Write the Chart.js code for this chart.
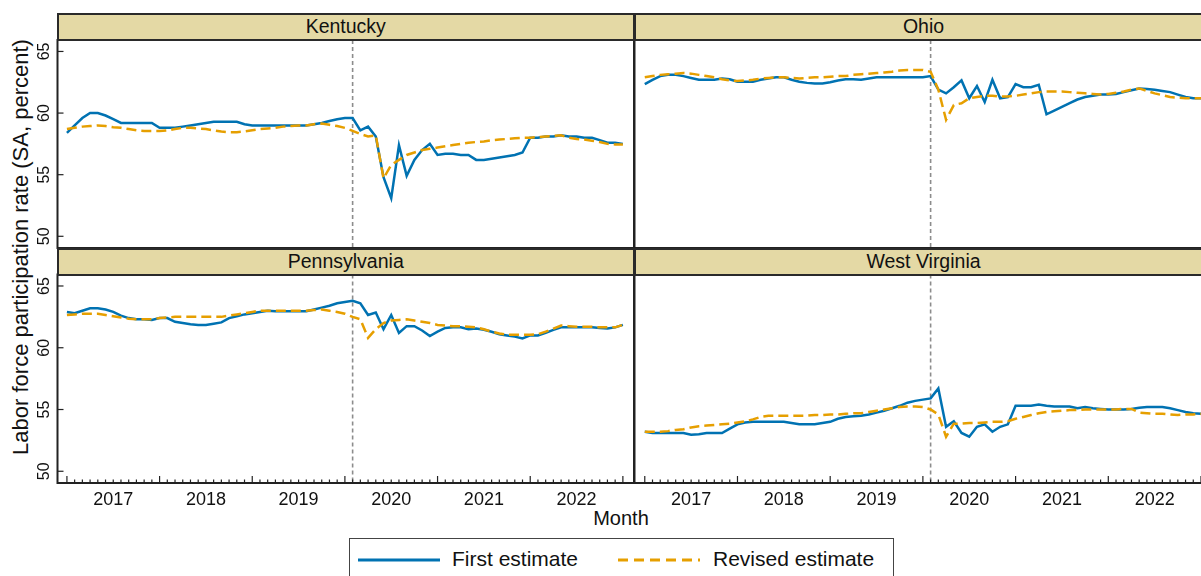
<!DOCTYPE html>
<html>
<head>
<meta charset="utf-8">
<script src="https://cdn.jsdelivr.net/npm/chart.js@4.4.1/dist/chart.umd.min.js"></script>
<style>
  body { margin: 0; width: 1201px; height: 576px; overflow: hidden; background: #fff;
         position: relative; font-family: "Liberation Sans", Arial, sans-serif; color: #111; }
  canvas.panel { position: absolute; left: 0; top: 0; }
  .strip { position: absolute; box-sizing: border-box; background: #e4d9a5; border: 2px solid #2a2a2a;
           text-align: center; font-size: 19.5px; line-height: 23px; }
  #ytitle { position: absolute; left: 21px; top: 247px; transform: translate(-50%, -50%) rotate(-90deg);
            white-space: nowrap; font-size: 22px; }
  #xtitle { position: absolute; left: 621px; top: 507px; transform: translateX(-50%); font-size: 20px; }
  #legend { position: absolute; left: 349px; top: 538px; width: 545px; height: 50px; box-sizing: border-box;
            border: 1px solid #444; font-size: 21px; }
  #legend .item { position: absolute; top: 8px; white-space: nowrap; }
  #legend svg { position: absolute; top: 19px; }
</style>
</head>
<body>
<div id="ytitle">Labor force participation rate (SA, percent)</div>
<div id="xtitle">Month</div>
<div id="legend">
  <svg style="left:8px" width="84" height="4"><line x1="0" y1="2" x2="82" y2="2" stroke="#0072B2" stroke-width="3"/></svg>
  <div class="item" id="lg1" style="left:102px"></div>
  <svg style="left:268px" width="84" height="4"><line x1="0" y1="2" x2="82" y2="2" stroke="#E69F00" stroke-width="3" stroke-dasharray="10,6"/></svg>
  <div class="item" id="lg2" style="left:363px"></div>
</div>
<canvas class="panel" id="cKY" width="1201" height="576"></canvas>
<canvas class="panel" id="cOH" width="1201" height="576"></canvas>
<canvas class="panel" id="cPA" width="1201" height="576"></canvas>
<canvas class="panel" id="cWV" width="1201" height="576"></canvas>
<script>
// monthly, Jan 2017 = 0 ... Jan 2023 = 72
const states = ['Kentucky', 'Ohio', 'Pennsylvania', 'West Virginia'];
const seriesNames = ['First estimate', 'Revised estimate'];
const yearLabels = ['2017', '2018', '2019', '2020', '2021', '2022'];
const yTicks = [50, 55, 60, 65];
const refMonth = 37; // Feb 2020

const kyFirst = [58.4, 59.0, 59.6, 60.0, 60.0, 59.8, 59.5, 59.2, 59.2, 59.2, 59.2, 59.2,
  58.8, 58.8, 58.8, 58.9, 59.0, 59.1, 59.2, 59.3, 59.3, 59.3, 59.3, 59.1,
  59.0, 59.0, 59.0, 59.0, 59.0, 59.0, 59.0, 59.0, 59.1, 59.2, 59.35, 59.5,
  59.6, 59.6, 58.6, 58.9, 58.1, 54.8, 53.1, 57.4, 54.9, 56.2, 57.0, 57.5,
  56.6, 56.7, 56.7, 56.6, 56.6, 56.2, 56.2, 56.3, 56.4, 56.5, 56.6, 56.8,
  58.0, 58.0, 58.1, 58.1, 58.2, 58.1, 58.1, 58.0, 58.0, 57.8, 57.6, 57.6,
  57.5];
const kyRevised = [58.7, 58.8, 58.9, 58.95, 59.0, 58.95, 58.85, 58.8, 58.7, 58.6, 58.55, 58.55,
  58.55, 58.6, 58.7, 58.8, 58.8, 58.75, 58.7, 58.6, 58.5, 58.45, 58.45, 58.5,
  58.6, 58.7, 58.75, 58.8, 58.9, 58.95, 59.0, 59.0, 59.1, 59.15, 59.05, 58.95,
  58.8, 58.55, 58.3, 58.1, 58.2, 54.7, 55.8, 56.2, 56.6, 56.8, 57.0, 57.1,
  57.2, 57.3, 57.4, 57.5, 57.6, 57.65, 57.7, 57.8, 57.85, 57.9, 57.95, 58.0,
  58.0, 58.05, 58.1, 58.15, 58.2, 58.0, 57.9, 57.85, 57.75, 57.65, 57.5, 57.45,
  57.45];

const ohFirst = [62.35, 62.7, 63.0, 63.1, 63.1, 63.0, 62.85, 62.7, 62.7, 62.7, 62.8, 62.75,
  62.55, 62.55, 62.55, 62.7, 62.8, 62.9, 62.9, 62.7, 62.55, 62.45, 62.4, 62.4,
  62.5, 62.65, 62.75, 62.75, 62.7, 62.8, 62.9, 62.9, 62.9, 62.9, 62.9, 62.9,
  62.9, 63.0, 61.9, 61.6, 62.1, 62.65, 61.2, 62.2, 60.9, 62.7, 61.2, 61.3,
  62.35, 62.1, 62.1, 62.3, 59.9, 60.2, 60.5, 60.8, 61.1, 61.3, 61.4, 61.5,
  61.5, 61.55, 61.7, 61.85, 62.0, 61.95, 61.9, 61.8, 61.7, 61.5, 61.3, 61.2,
  61.2];
const ohRevised = [62.9, 63.0, 63.1, 63.15, 63.2, 63.25, 63.2, 63.1, 63.0, 62.9, 62.75, 62.65,
  62.6, 62.65, 62.7, 62.8, 62.85, 62.9, 62.9, 62.85, 62.8, 62.85, 62.9, 62.9,
  62.95, 63.0, 63.0, 63.1, 63.15, 63.2, 63.25, 63.3, 63.35, 63.45, 63.5, 63.5,
  63.5, 63.35, 61.9, 59.45, 60.65, 60.8, 61.2, 61.3, 61.4, 61.4, 61.35, 61.35,
  61.4, 61.5, 61.6, 61.7, 61.75, 61.75, 61.75, 61.7, 61.65, 61.6, 61.55, 61.5,
  61.55, 61.65, 61.75, 61.9, 62.0, 61.8, 61.6, 61.45, 61.3, 61.25, 61.2, 61.2,
  61.2];

const paFirst = [62.9, 62.8, 63.0, 63.2, 63.2, 63.1, 62.9, 62.6, 62.4, 62.3, 62.3, 62.25,
  62.4, 62.4, 62.1, 62.0, 61.9, 61.85, 61.85, 61.95, 62.05, 62.4, 62.55, 62.7,
  62.8, 62.9, 63.0, 62.95, 62.95, 62.95, 62.95, 62.95, 63.1, 63.25, 63.4, 63.6,
  63.7, 63.8, 63.6, 62.65, 62.85, 61.5, 62.65, 61.2, 61.75, 61.75, 61.4, 60.95,
  61.3, 61.6, 61.65, 61.65, 61.5, 61.55, 61.45, 61.3, 61.1, 61.0, 60.9, 60.75,
  61.0, 61.0, 61.2, 61.45, 61.65, 61.65, 61.65, 61.65, 61.65, 61.6, 61.55, 61.65,
  61.85];
const paRevised = [62.65, 62.7, 62.75, 62.75, 62.75, 62.65, 62.55, 62.45, 62.35, 62.3, 62.3, 62.3,
  62.4, 62.45, 62.5, 62.5, 62.5, 62.5, 62.5, 62.5, 62.5, 62.6, 62.7, 62.8,
  62.9, 63.0, 63.0, 63.0, 63.0, 63.0, 63.0, 63.0, 63.05, 63.1, 63.0, 62.9,
  62.75, 62.5, 62.3, 60.8, 61.5, 62.0, 62.2, 62.25, 62.3, 62.2, 62.1, 62.0,
  61.85, 61.8, 61.75, 61.75, 61.7, 61.65, 61.5, 61.3, 61.15, 61.05, 61.05, 61.05,
  61.05, 61.1, 61.3, 61.55, 61.8, 61.75, 61.7, 61.7, 61.7, 61.65, 61.65, 61.65,
  61.85];

const wvFirst = [53.2, 53.1, 53.1, 53.1, 53.1, 53.1, 52.95, 53.0, 53.1, 53.1, 53.1, 53.45,
  53.8, 53.95, 54.0, 54.0, 54.0, 54.0, 54.0, 53.9, 53.8, 53.8, 53.8, 53.9,
  54.0, 54.25, 54.4, 54.45, 54.5, 54.6, 54.75, 54.9, 55.1, 55.3, 55.55, 55.7,
  55.8, 55.9, 56.7, 53.6, 54.05, 53.1, 52.8, 53.6, 53.8, 53.2, 53.6, 53.8,
  55.3, 55.3, 55.3, 55.4, 55.3, 55.25, 55.25, 55.25, 55.1, 55.2, 55.1, 55.05,
  55.0, 55.0, 55.0, 55.05, 55.15, 55.2, 55.2, 55.2, 55.1, 54.95, 54.8, 54.7,
  54.65];
const wvRevised = [53.2, 53.2, 53.2, 53.25, 53.35, 53.4, 53.55, 53.65, 53.7, 53.75, 53.8, 53.85,
  53.95, 54.05, 54.2, 54.4, 54.5, 54.5, 54.5, 54.5, 54.5, 54.5, 54.55, 54.55,
  54.6, 54.6, 54.65, 54.7, 54.7, 54.8, 54.9, 55.0, 55.1, 55.2, 55.25, 55.25,
  55.2, 55.0, 54.6, 52.8, 53.85, 53.85, 53.9, 53.9, 53.95, 54.0, 54.0, 54.05,
  54.25, 54.4, 54.55, 54.7, 54.8, 54.85, 54.9, 54.95, 54.95, 55.0, 55.0, 55.0,
  55.0, 55.0, 55.05, 55.05, 54.75, 54.7, 54.65, 54.65, 54.6, 54.55, 54.6, 54.6,
  54.65];

const months = kyFirst.map((_, i) => i);
const FONT = '"Liberation Sans", Arial, sans-serif';

document.getElementById('lg1').textContent = seriesNames[0];
document.getElementById('lg2').textContent = seriesNames[1];

// panel boxes (plot area in page pixels)
const panels = [
  { id: 'cKY', name: states[0], first: kyFirst, revised: kyRevised, left: 57.5, right: 634, top: 40, bottom: 248, xMin: -1.22, xMax: 73.44, showY: true, showX: false },
  { id: 'cOH', name: states[1], first: ohFirst, revised: ohRevised, left: 634.5, right: 1201, top: 40, bottom: 248, xMin: -1.33, xMax: 72.0, showY: false, showX: false },
  { id: 'cPA', name: states[2], first: paFirst, revised: paRevised, left: 57.5, right: 634, top: 274.5, bottom: 483, xMin: -1.22, xMax: 73.44, showY: true, showX: true },
  { id: 'cWV', name: states[3], first: wvFirst, revised: wvRevised, left: 634.5, right: 1201, top: 274.5, bottom: 483, xMin: -1.33, xMax: 72.0, showY: false, showX: true }
];

const facetPlugin = {
  id: 'facet',
  beforeDatasetsDraw(chart) {
    const { ctx, chartArea: a, scales: { x } } = chart;
    const px = x.getPixelForValue(refMonth);
    ctx.save();
    ctx.strokeStyle = '#8c8c8c';
    ctx.lineWidth = 1.6;
    ctx.setLineDash([4, 3]);
    ctx.beginPath();
    ctx.moveTo(px, a.top);
    ctx.lineTo(px, a.bottom);
    ctx.stroke();
    ctx.restore();
  },
  afterDatasetsDraw(chart, args, o) {
    const { ctx, chartArea: a, scales: { x, y } } = chart;
    ctx.save();
    ctx.strokeStyle = '#222';
    ctx.lineWidth = 2;
    ctx.beginPath();
    ctx.moveTo(a.right + 1, a.top);
    ctx.lineTo(a.left, a.top);
    ctx.lineTo(a.left, a.bottom);
    ctx.lineTo(a.right + 1, a.bottom);
    if (o.closed) {
      ctx.moveTo(a.right, a.top);
      ctx.lineTo(a.right, a.bottom);
    }
    ctx.stroke();

    ctx.fillStyle = '#111';
    ctx.lineWidth = 1.2;
    if (o.showY) {
      ctx.font = '16px ' + FONT;
      yTicks.forEach(v => {
        const py = y.getPixelForValue(v);
        ctx.beginPath();
        ctx.moveTo(a.left, py);
        ctx.lineTo(a.left + 6, py);
        ctx.stroke();
        ctx.save();
        ctx.translate(a.left - 9, py);
        ctx.rotate(-Math.PI / 2);
        ctx.textAlign = 'center';
        ctx.textBaseline = 'alphabetic';
        ctx.fillText(String(v), 0, 0);
        ctx.restore();
      });
    }
    if (o.showX) {
      months.forEach(m => {
        const px = x.getPixelForValue(m);
        if (px > a.right) return;
        const len = m % 12 === 0 ? 7 : 3.5;
        ctx.beginPath();
        ctx.moveTo(px, a.bottom);
        ctx.lineTo(px, a.bottom - len);
        ctx.stroke();
      });
      ctx.font = '18px ' + FONT;
      ctx.textAlign = 'center';
      ctx.textBaseline = 'alphabetic';
      yearLabels.forEach((lab, i) => {
        ctx.fillText(lab, x.getPixelForValue(6 + 12 * i), a.bottom + 22);
      });
    }
    ctx.restore();
  }
};

panels.forEach(p => {
  // strip header
  const s = document.createElement('div');
  s.className = 'strip';
  s.textContent = p.name;
  s.style.left = (p.left - 1) + 'px';
  s.style.top = (p.top - 27) + 'px';
  s.style.width = (p.showY ? p.right - p.left + 2 : 580) + 'px';
  s.style.height = '28px';
  document.body.appendChild(s);

  new Chart(document.getElementById(p.id), {
    type: 'line',
    data: {
      labels: months,
      datasets: [
        {
          label: seriesNames[1],
          data: months.map((m, i) => ({ x: m, y: p.revised[i] })),
          borderColor: '#E69F00',
          borderWidth: 2.5,
          borderDash: [10, 5],
          pointRadius: 0,
          tension: 0,
          fill: false
        },
        {
          label: seriesNames[0],
          data: months.map((m, i) => ({ x: m, y: p.first[i] })),
          borderColor: '#0072B2',
          borderWidth: 2.5,
          pointRadius: 0,
          tension: 0,
          fill: false
        }
      ]
    },
    options: {
      responsive: false,
      animation: false,
      devicePixelRatio: 1,
      layout: { padding: { left: p.left, right: 1201 - p.right, top: p.top, bottom: 576 - p.bottom } },
      scales: {
        x: { type: 'linear', display: false, min: p.xMin, max: p.xMax },
        y: { type: 'linear', display: false, min: 49.05, max: 65.93 }
      },
      plugins: {
        legend: { display: false },
        tooltip: { enabled: false },
        facet: { showY: p.showY, showX: p.showX, closed: p.showY }
      }
    },
    plugins: [facetPlugin]
  });
});
</script>
</body>
</html>
